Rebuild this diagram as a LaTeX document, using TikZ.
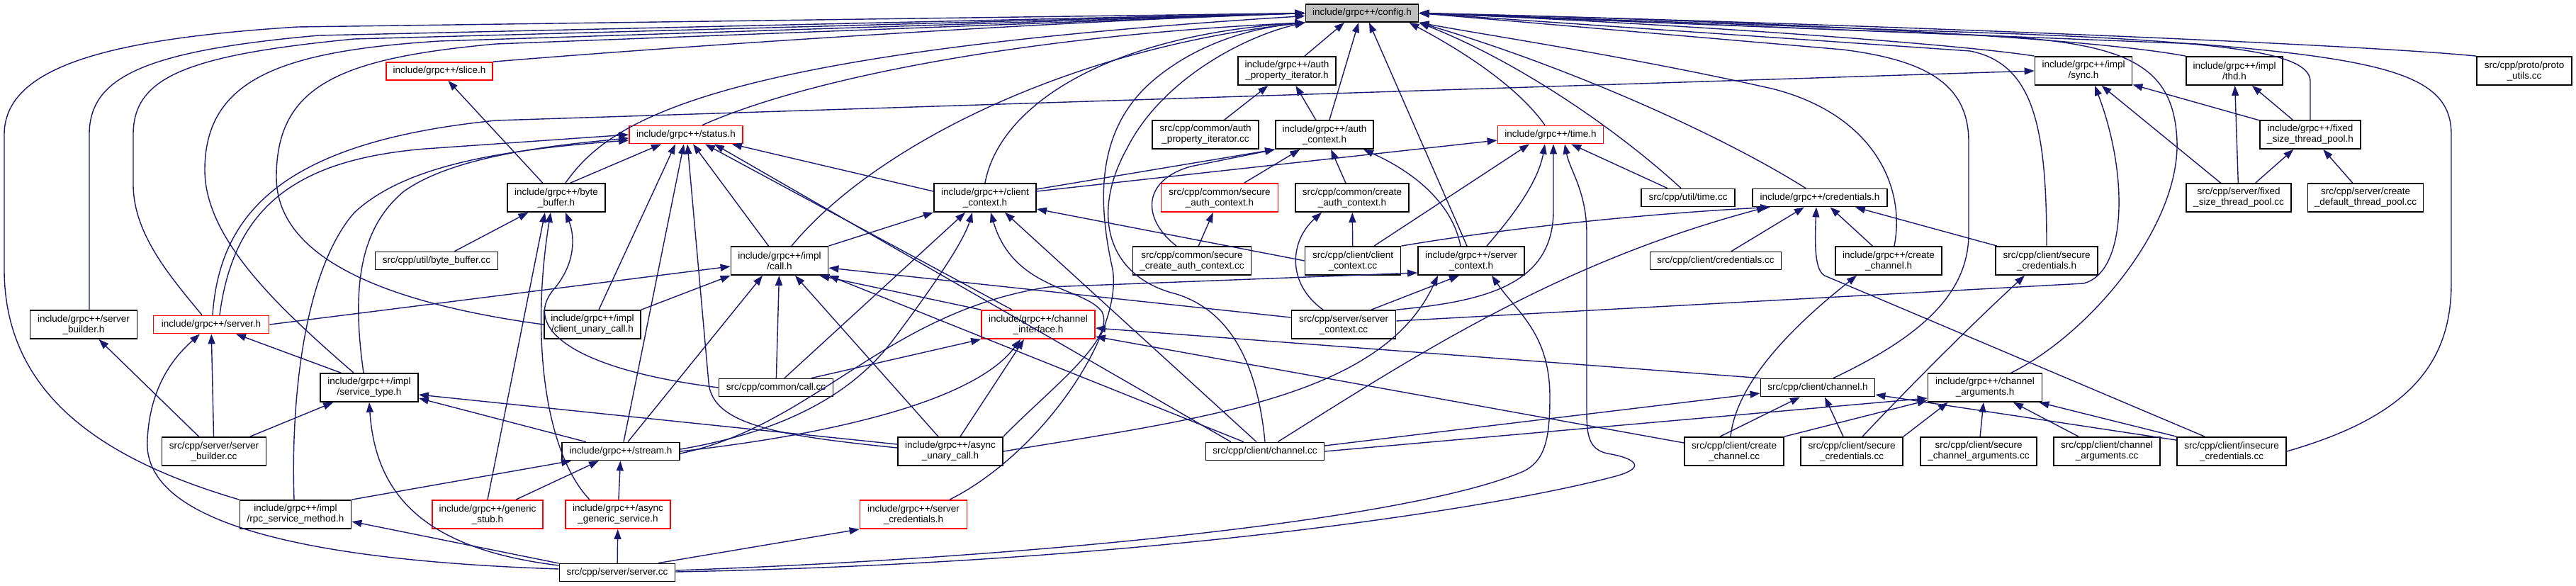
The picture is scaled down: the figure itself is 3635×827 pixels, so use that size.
\documentclass[tikz,border=0pt]{standalone}
\usepackage{fontspec}
\setmainfont{Liberation Sans}
\usetikzlibrary{arrows.meta}
\definecolor{eblue}{HTML}{191970}
\definecolor{cfgfill}{HTML}{BFBFBF}
\newcommand{\labfont}{\fontsize{13.5}{15}\selectfont}
\tikzset{
 box/.style={draw=black, fill=white, line width=1.8pt, inner sep=0pt, align=center, font=\labfont, minimum height=40pt},
 one/.style={minimum height=25pt},
 rbox/.style={draw=red},
 conn/.style={draw=eblue, line width=1.4pt, -{Triangle[length=14pt,width=10pt]}},
}
\begin{document}
\begin{tikzpicture}[x=1pt,y=-1pt]
\useasboundingbox (0,0) rectangle (3635,827);
\fill[white] (0,0) rectangle (3635,827);
% nodes
\node[box,one,fill=cfgfill,minimum width=159pt] (cfg) at (1922,18.5) {include/grpc++/config.h};
\node[box,one,rbox,minimum width=150pt] (slice) at (620,100.5) {include/grpc++/slice.h};
\node[box,minimum width=138pt] (api) at (1816,100) {include/grpc++/auth\\\_property\_iterator.h};
\node[box,minimum width=137pt] (sync) at (2940,100) {include/grpc++/impl\\/sync.h};
\node[box,minimum width=136pt] (thd) at (3153,100) {include/grpc++/impl\\/thd.h};
\node[box,minimum width=134pt] (proto) at (3562,100) {src/cpp/proto/proto\\\_utils.cc};
\node[box,one,rbox,minimum width=160pt] (status) at (968,190) {include/grpc++/status.h};
\node[box,minimum width=150pt] (apicc) at (1701,190) {src/cpp/common/auth\\\_property\_iterator.cc};
\node[box,minimum width=138pt] (actx) at (1869,190) {include/grpc++/auth\\\_context.h};
\node[box,one,rbox,minimum width=149pt] (time) at (2188,190) {include/grpc++/time.h};
\node[box,minimum width=142pt] (fpool) at (3260,190) {include/grpc++/fixed\\\_size\_thread\_pool.h};
\node[box,minimum width=138pt] (bb) at (785,279) {include/grpc++/byte\\\_buffer.h};
\node[box,minimum width=144pt] (cctx) at (1390,279) {include/grpc++/client\\\_context.h};
\node[box,rbox,minimum width=165pt] (sactx) at (1721,279) {src/cpp/common/secure\\\_auth\_context.h};
\node[box,minimum width=160pt] (cactx) at (1908,279) {src/cpp/common/create\\\_auth\_context.h};
\node[box,one,minimum width=132pt] (timecc) at (2382,279) {src/cpp/util/time.cc};
\node[box,one,minimum width=190pt] (cred) at (2568,279) {include/grpc++/credentials.h};
\node[box,minimum width=148pt] (fpoolcc) at (3159,279) {src/cpp/server/fixed\\\_size\_thread\_pool.cc};
\node[box,minimum width=163pt] (dpoolcc) at (3338,279) {src/cpp/server/create\\\_default\_thread\_pool.cc};
\node[box,one,minimum width=173pt] (bbcc) at (616,368) {src/cpp/util/byte\_buffer.cc};
\node[box,minimum width=137pt] (call) at (1100,368) {include/grpc++/impl\\/call.h};
\node[box,minimum width=167pt] (scactxcc) at (1682,368) {src/cpp/common/secure\\\_create\_auth\_context.cc};
\node[box,minimum width=135pt] (cctxcc) at (1909,368) {src/cpp/client/client\\\_context.cc};
\node[box,minimum width=150pt] (sctx) at (2076,368) {include/grpc++/server\\\_context.h};
\node[box,one,minimum width=185pt] (credcc) at (2421,368) {src/cpp/client/credentials.cc};
\node[box,minimum width=150pt] (cch) at (2665,368) {include/grpc++/create\\\_channel.h};
\node[box,minimum width=144pt] (scred) at (2888,368) {src/cpp/client/secure\\\_credentials.h};
\node[box,minimum width=151pt] (sbh) at (118,458) {include/grpc++/server\\\_builder.h};
\node[box,one,rbox,minimum width=163pt] (server) at (298,458) {include/grpc++/server.h};
\node[box,minimum width=136pt] (cuc) at (836,458) {include/grpc++/impl\\/client\_unary\_call.h};
\node[box,rbox,minimum width=160pt] (chi) at (1465,458) {include/grpc++/channel\\\_interface.h};
\node[box,minimum width=147pt] (sctxcc) at (1896,458) {src/cpp/server/server\\\_context.cc};
\node[box,minimum width=138pt] (svct) at (521,547) {include/grpc++/impl\\/service\_type.h};
\node[box,one,minimum width=161pt] (callcc) at (1095,547) {src/cpp/common/call.cc};
\node[box,one,minimum width=161pt] (chh) at (2565,547) {src/cpp/client/channel.h};
\node[box,minimum width=161pt] (chargs) at (2801,547) {include/grpc++/channel\\\_arguments.h};
\node[box,minimum width=147pt] (sbcc) at (302,637) {src/cpp/server/server\\\_builder.cc};
\node[box,one,minimum width=166pt] (stream) at (876,637) {include/grpc++/stream.h};
\node[box,minimum width=148pt] (auc) at (1341,637) {include/grpc++/async\\\_unary\_call.h};
\node[box,one,minimum width=167pt] (chcc) at (1785,637) {src/cpp/client/channel.cc};
\node[box,minimum width=140pt] (cchcc) at (2447,637) {src/cpp/client/create\\\_channel.cc};
\node[box,minimum width=144pt] (scredcc) at (2613,637) {src/cpp/client/secure\\\_credentials.cc};
\node[box,minimum width=164pt] (scargs) at (2792,637) {src/cpp/client/secure\\\_channel\_arguments.cc};
\node[box,minimum width=150pt] (chargscc) at (2973,637) {src/cpp/client/channel\\\_arguments.cc};
\node[box,minimum width=154pt] (inscc) at (3149,637) {src/cpp/client/insecure\\\_credentials.cc};
\node[box,minimum width=157pt] (rsm) at (417,726) {include/grpc++/impl\\/rpc\_service\_method.h};
\node[box,rbox,minimum width=156pt] (gstub) at (688,726) {include/grpc++/generic\\\_stub.h};
\node[box,rbox,minimum width=148pt] (ags) at (872,726) {include/grpc++/async\\\_generic\_service.h};
\node[box,rbox,minimum width=151pt] (screds) at (1289,726) {include/grpc++/server\\\_credentials.h};
\node[box,one,minimum width=163pt] (servercc) at (871,808) {src/cpp/server/server.cc};
% edges to config.h
\draw[conn] (rsm.north west) .. controls (150,650) and (6,560) .. (6,380) -- (6,190) .. controls (6,95) and (150,55) .. (420,38) -- (cfg.west);
\draw[conn] ([xshift=8pt]sbh.north) -- (126,190) .. controls (126,110) and (200,72) .. (450,50) -- (cfg.west);
\draw[conn] ([xshift=-13pt]server.north) .. controls (240,390) and (188,330) .. (188,260) -- (188,190) .. controls (188,110) and (260,78) .. (500,55) -- (cfg.west);
\draw[conn] ([xshift=-22pt]svct.north) .. controls (400,440) and (289,340) .. (289,240) .. controls (289,110) and (400,72) .. (620,58) -- (cfg.west);
\draw[conn] (cuc.west) .. controls (560,430) and (390,370) .. (390,250) .. controls (390,120) and (480,82) .. (700,62) -- (cfg.west);
\draw[conn] (slice.north east) .. controls (1000,62) and (1500,30) .. (cfg.west);
\draw[conn] ([xshift=13pt]bb.north) .. controls (860,170) and (1000,75) .. ([yshift=-4pt]cfg.west);
\draw[conn] ([xshift=23pt]status.north) .. controls (1140,110) and (1450,50) .. (cfg.south west);
\draw[conn] ([xshift=17pt]call.north) .. controls (1230,210) and (1500,70) .. (cfg.south west);
\draw[conn] (cctx.north) .. controls (1410,150) and (1560,50) .. (cfg.south west);
\draw[conn] ([xshift=51pt]screds.north) .. controls (1470,640) and (1585,470) .. (1570,380) .. controls (1550,290) and (1545,190) .. (1620,120) .. controls (1680,65) and (1760,40) .. (cfg.south west);
\draw[conn] (chcc.north) .. controls (1775,520) and (1740,440) .. (1660,415) .. controls (1560,390) and (1540,300) .. (1590,210) .. controls (1640,110) and (1760,50) .. (cfg.south west);
\draw[conn] ([xshift=25pt]api.north) -- ([xshift=-25pt]cfg.south);
\draw[conn] ([xshift=7pt]actx.north) -- ([xshift=-5pt]cfg.south);
\draw[conn] ([xshift=-6pt]sctx.north) -- ([xshift=10pt]cfg.south);
\draw[conn] ([xshift=-8pt]time.north) .. controls (2140,120) and (2060,70) .. ([xshift=-14pt]cfg.south east);
\draw[conn] ([xshift=-10pt]timecc.north) .. controls (2290,190) and (2150,90) .. (cfg.south east);
\draw[conn] ([xshift=-20pt]cred.north) .. controls (2420,185) and (2200,90) .. (cfg.south east);
\draw[conn] ([xshift=8pt]cch.north) .. controls (2690,260) and (2640,160) .. (2500,125) .. controls (2300,80) and (2100,50) .. (cfg.south east);
\draw[conn] (sync.north west) .. controls (2750,60) and (2300,30) .. (cfg.east);
\draw[conn] (thd.north west) .. controls (2900,45) and (2300,25) .. (cfg.east);
\draw[conn] (proto.north west) .. controls (3300,60) and (2500,30) .. (cfg.east);
\draw[conn] (fpool.north) -- (3260,115) .. controls (3260,75) and (3150,60) .. (2850,48) -- (cfg.east);
\draw[conn] (scred.north) .. controls (2888,180) and (2870,90) .. (2780,72) -- (cfg.east);
\draw[conn] ([xshift=22pt]chh.north) .. controls (2700,480) and (2778,420) .. (2778,330) -- (2778,200) .. controls (2778,120) and (2720,85) .. (2600,70) -- (cfg.east);
\draw[conn] ([xshift=37pt]chargs.north) .. controls (2950,470) and (3075,320) .. (3072,200) .. controls (3068,90) and (3000,60) .. (2800,50) -- (cfg.east);
\draw[conn] (inscc.east) .. controls (3390,590) and (3459,520) .. (3459,400) -- (3459,190) .. controls (3459,110) and (3380,85) .. (3100,62) -- (cfg.east);
% other edges
\draw[conn] (apicc) -- (api);
\draw[conn] (actx) -- (api);
\draw[conn] (fpool) -- (sync);
\draw[conn] (fpool) -- (thd);
\draw[conn] (bb) -- (slice);
\draw[conn] ([xshift=20pt]bb.north) -- ([xshift=-35pt]status.south);
\draw[conn] ([yshift=9pt]cctx.west) -- ([xshift=-16pt]status.south east);
\draw[conn] ([yshift=12pt]cctx.east) -- (actx.south west);
\draw[conn] ([yshift=9pt]cctx.east) -- ([yshift=-8pt]time.west);
\draw[conn] (sactx) -- (actx);
\draw[conn] (cactx) -- (actx);
\draw[conn] (timecc) -- (time);
\draw[conn] (fpoolcc) -- (sync);
\draw[conn] (fpoolcc) -- (thd);
\draw[conn] (fpoolcc) -- (fpool);
\draw[conn] (dpoolcc) -- (fpool);
\draw[conn] (bbcc) -- (bb);
\draw[conn] (call) -- (status);
\draw[conn] (call.north east) -- (cctx.south west);
\draw[conn] (scactxcc) -- (sactx);
\draw[conn] ([xshift=-22pt]scactxcc.north) .. controls (1612,310) and (1610,255) .. (1680,235) -- (actx.south west);
\draw[conn] (cctxcc.west) -- ([yshift=-16pt]cctx.east);
\draw[conn] (cctxcc) -- (cactx);
\draw[conn] ([xshift=30pt]cctxcc.north) -- ([xshift=-30pt]time.south);
\draw[conn] (cctxcc.north east) .. controls (2150,318) and (2350,300) .. ([xshift=-70pt]cred.south);
\draw[conn] ([xshift=-15pt]sctx.north) .. controls (2050,290) and (2000,245) .. ([xshift=55pt]actx.south);
\draw[conn] ([xshift=22pt]sctx.north) .. controls (2130,310) and (2170,260) .. ([xshift=-8pt]time.south);
\draw[conn] (credcc) -- (cred);
\draw[conn] (cch) -- (cred);
\draw[conn] ([xshift=-70pt]scred.north) -- ([xshift=-46pt]cred.south east);
\draw[conn] ([xshift=2pt]server.north) .. controls (310,300) and (400,200) .. (700,170) -- (sync.west);
\draw[conn] ([xshift=12pt]server.north) .. controls (330,290) and (420,225) .. (600,210) -- (status.west);
\draw[conn] (server.east) -- ([yshift=-8pt]call.west);
\draw[conn] ([xshift=-8pt]svct.north) .. controls (495,400) and (510,320) .. (570,270) .. controls (640,220) and (780,205) .. ([yshift=-5pt]status.west);
\draw[conn] ([xshift=-40pt]svct.north) -- ([xshift=35pt]server.south);
\draw[conn] ([xshift=-2pt]rsm.north) .. controls (410,560) and (430,380) .. (500,300) .. controls (570,235) and (700,212) .. ([yshift=-8pt]status.west);
\draw[conn] (rsm.north east) -- ([xshift=14pt]stream.south west);
\draw[conn] (sbcc) -- (sbh);
\draw[conn] (sbcc) -- (server);
\draw[conn] (sbcc) -- (svct);
\draw[conn] ([yshift=5pt]servercc.west) .. controls (400,790) and (200,730) .. (208,620) .. controls (212,540) and (250,500) .. ([xshift=-16pt]server.south);
\draw[conn] ([yshift=10pt]servercc.west) .. controls (600,775) and (530,700) .. (svct.south);
\draw[conn] ([yshift=13pt]servercc.west) -- ([yshift=-10pt]rsm.east);
\draw[conn] (servercc) -- (ags);
\draw[conn] ([xshift=58pt]servercc.north) -- (screds.south west);
\draw[conn] ([yshift=3pt]servercc.east) .. controls (1500,785) and (2000,730) .. (2150,665) .. controls (2180,650) and (2187,620) .. (2187,560) .. controls (2187,470) and (2140,440) .. ([xshift=29pt]sctx.south);
\draw[conn] ([yshift=1pt]servercc.east) .. controls (1600,795) and (2100,720) .. (2280,672) .. controls (2330,658) and (2300,645) .. (2268,640) .. controls (2242,634) and (2239,615) .. (2239,580) -- (2239,330) .. controls (2239,270) and (2215,240) .. ([xshift=20pt]time.south);
\draw[conn] ([xshift=4pt]stream.north) -- ([xshift=-3pt]status.south);
\draw[conn] ([xshift=10pt]stream.north) -- ([xshift=-24pt]call.south);
\draw[conn] ([xshift=-49pt]stream.north) -- ([yshift=-15pt]svct.east);
\draw[conn] ([yshift=3pt]stream.east) .. controls (1100,610) and (1200,560) .. (1260,480) .. controls (1320,400) and (1360,340) .. ([xshift=-18pt]cctx.south);
\draw[conn] (stream.east) .. controls (1200,610) and (1380,560) .. ([xshift=-25pt]chi.south);
\draw[conn] ([yshift=-3pt]stream.east) .. controls (1150,600) and (1250,440) .. (1480,405) -- ([yshift=-17pt]sctx.west);
\draw[conn] (auc.east) .. controls (1700,590) and (1950,560) .. ([xshift=-47pt]sctx.south);
\draw[conn] ([yshift=5pt]auc.west) .. controls (1100,615) and (1005,600) .. (1000,540) -- ([xshift=2pt]status.south);
\draw[conn] ([yshift=10pt]auc.west) -- ([yshift=-10pt]svct.east);
\draw[conn] ([xshift=-17pt]auc.north) -- ([xshift=22pt]call.south);
\draw[conn] ([xshift=14pt]auc.north) -- ([xshift=-20pt]chi.south);
\draw[conn] (auc.north east) .. controls (1480,550) and (1575,480) .. (1555,440) .. controls (1530,405) and (1430,410) .. ([xshift=8pt]cctx.south);
\draw[conn] ([xshift=-37pt]chi.north) -- ([xshift=27pt]status.south);
\draw[conn] (chi.north west) -- ([xshift=-13pt]call.south east);
\draw[conn] (chh.north west) -- ([yshift=-5pt]chi.east);
\draw[conn] ([yshift=12pt]cchcc.west) -- ([yshift=-17pt]chi.east);
\draw[conn] (callcc) -- (call);
\draw[conn] ([xshift=12pt]callcc.north) -- ([xshift=-28pt]cctx.south);
\draw[conn] ([xshift=50pt]callcc.north) -- (chi.south west);
\draw[conn] (callcc.west) .. controls (800,520) and (740,460) .. (780,410) .. controls (815,370) and (810,330) .. ([xshift=13pt]bb.south);
\draw[conn] ([xshift=9pt]cuc.north) -- ([xshift=-15pt]status.south);
\draw[conn] (cuc.north east) -- (call.south west);
\draw[conn] ([xshift=40pt]gstub.north) -- ([xshift=-31pt]stream.south);
\draw[conn] (gstub.north) -- ([xshift=-16pt]bb.south);
\draw[conn] (ags) -- (stream);
\draw[conn] ([xshift=-40pt]ags.north) .. controls (770,640) and (748,480) .. ([xshift=-8pt]bb.south);
\draw[conn] ([yshift=8pt]chcc.east) -- ([yshift=-8pt]chh.west);
\draw[conn] (chcc.east) -- ([yshift=-15pt]chargs.west);
\draw[conn] ([xshift=-30pt]chcc.north) -- (call.south east);
\draw[conn] ([xshift=-12pt]chcc.north) -- ([xshift=28pt]cctx.south);
\draw[conn] ([xshift=-48pt]chcc.north) -- ([xshift=40pt]status.south);
\draw[conn] ([xshift=18pt]chcc.north) .. controls (2000,500) and (2200,370) .. ([xshift=-75pt]cred.south);
\draw[conn] ([xshift=-20pt]cchcc.north) -- ([xshift=-25pt]chh.south);
\draw[conn] (cchcc.north east) -- ([yshift=-18pt]chargs.west);
\draw[conn] ([xshift=-5pt]cchcc.north) .. controls (2450,540) and (2530,460) .. ([xshift=-45pt]cch.south);
\draw[conn] ([xshift=15pt]scredcc.north) .. controls (2700,540) and (2780,460) .. ([xshift=-31pt]scred.south);
\draw[conn] ([xshift=-12pt]scredcc.north) -- ([xshift=10pt]chh.south);
\draw[conn] (scredcc.north east) -- ([xshift=29pt]chargs.south west);
\draw[conn] (scargs) -- (chargs);
\draw[conn] (chargscc) -- (chargs);
\draw[conn] (inscc.north west) -- ([xshift=-5pt]chargs.south east);
\draw[conn] ([yshift=-5pt]inscc.north west) -- ([yshift=-10pt]chh.east);
\draw[conn] ([xshift=-38pt]inscc.north) -- (2577,390) .. controls (2563,385) and (2560,360) .. ([xshift=-5pt]cred.south);
\draw[conn] ([xshift=39pt]sctxcc.north) -- ([xshift=-17pt]sctx.south);
\draw[conn] ([xshift=-29pt]sctxcc.north) .. controls (1815,400) and (1820,340) .. ([xshift=-43pt]cactx.south);
\draw[conn] ([yshift=10pt]sctxcc.west) -- ([yshift=-10pt]call.east);
\draw[conn] ([yshift=5pt]sctxcc.east) -- (2940,400) .. controls (3000,385) and (3005,250) .. ([xshift=16pt]sync.south);
\draw[conn] (sctxcc.north east) .. controls (2100,425) and (2190,400) .. (2192,300) -- ([xshift=4pt]time.south);
\end{tikzpicture}
\end{document}
